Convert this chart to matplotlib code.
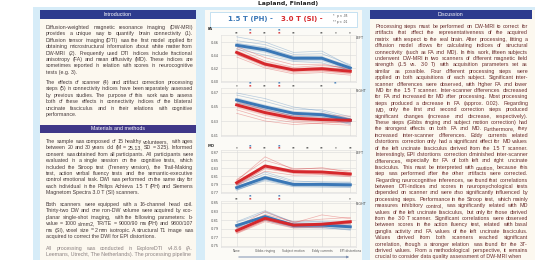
import matplotlib
matplotlib.use("Agg")
import matplotlib.pyplot as plt
from matplotlib.patches import Rectangle, FancyArrowPatch
from matplotlib.font_manager import FontProperties

W, H = 535, 260

# ---- chart data ----
steps = ["None", "Gibbs ringing", "Subject motion", "Eddy currents", "EPI distortions"]
panels = ["FA LEFT", "FA RIGHT", "MD LEFT", "MD RIGHT"]

fa_left_ph = [0.455, 0.448, 0.435, 0.435, 0.420]
fa_left_si = [0.444, 0.426, 0.417, 0.419, 0.415]
fa_right_ph = [0.460, 0.450, 0.441, 0.439, 0.431]
fa_right_si = [0.453, 0.442, 0.434, 0.432, 0.431]
md_left_ph = [0.781, 0.806, 0.789, 0.789, 0.788]
md_left_si = [0.793, 0.835, 0.821, 0.820, 0.815]
md_right_ph = [0.797, 0.818, 0.798, 0.798, 0.794]
md_right_si = [0.785, 0.814, 0.798, 0.800, 0.806]

# a few single subjects (faint lines)
fa_left_ph_subj = [[0.462, 0.456, 0.441, 0.442, 0.425], [0.449, 0.440, 0.430, 0.428, 0.416],
                   [0.468, 0.460, 0.444, 0.446, 0.423], [0.458, 0.452, 0.438, 0.437, 0.414]]
fa_left_si_subj = [[0.450, 0.431, 0.421, 0.424, 0.420], [0.437, 0.420, 0.411, 0.413, 0.409],
                   [0.453, 0.436, 0.425, 0.426, 0.418], [0.441, 0.424, 0.419, 0.416, 0.412]]
fa_right_ph_subj = [[0.467, 0.458, 0.447, 0.446, 0.436], [0.453, 0.443, 0.434, 0.433, 0.427],
                    [0.470, 0.462, 0.450, 0.444, 0.433], [0.456, 0.447, 0.437, 0.436, 0.425]]
fa_right_si_subj = [[0.460, 0.449, 0.440, 0.438, 0.437], [0.446, 0.434, 0.428, 0.426, 0.424],
                    [0.458, 0.446, 0.437, 0.441, 0.433], [0.441, 0.430, 0.425, 0.427, 0.429]]
md_left_ph_subj = [[0.787, 0.815, 0.795, 0.796, 0.794], [0.776, 0.798, 0.783, 0.782, 0.781],
                   [0.789, 0.820, 0.798, 0.794, 0.795], [0.774, 0.801, 0.786, 0.785, 0.783]]
md_left_si_subj = [[0.801, 0.849, 0.829, 0.828, 0.823], [0.786, 0.822, 0.812, 0.813, 0.808],
                   [0.798, 0.858, 0.826, 0.831, 0.819], [0.788, 0.828, 0.818, 0.815, 0.811]]
md_right_ph_subj = [[0.804, 0.828, 0.806, 0.805, 0.800], [0.790, 0.809, 0.792, 0.791, 0.788],
                    [0.806, 0.832, 0.804, 0.807, 0.803], [0.791, 0.812, 0.794, 0.793, 0.786]]
md_right_si_subj = [[0.792, 0.823, 0.806, 0.812, 0.816], [0.778, 0.806, 0.791, 0.793, 0.798],
                    [0.794, 0.830, 0.803, 0.822, 0.813], [0.780, 0.809, 0.795, 0.796, 0.802]]

band = [0.004, 0.004, 0.005, 0.005]
yticks = [[0.40, 0.42, 0.44, 0.46], [0.41, 0.43, 0.45, 0.47],
          [0.77, 0.79, 0.81, 0.83, 0.85, 0.87], [0.75, 0.77, 0.79, 0.81, 0.83, 0.85]]

# significance marks: (position on step axis, label)
sig_grey = [[(0, "**"), (1, "**"), (2, "**"), (3, "**"), (3.5, "*"), (4, "*")],
            [(0, "*"), (1, "**"), (2, "**"), (3, "**")],
            [(0, "*"), (1, "**"), (2, "**"), (2.5, "**"), (3, "**"), (3.5, "*"), (4, "**")],
            [(0, "**"), (4, "*")]]
sig_ph = [[(0.5, "**"), (1.5, "**")], [(0.5, "**"), (1.5, "**"), (3.5, "**")],
          [(0.5, "**"), (1.5, "**")], [(0.5, "**"), (1.5, "**")]]
sig_si = [[(0.5, "**"), (1.5, "**")], [(0.5, "**"), (1.5, "**")],
          [(0.5, "**"), (1.5, "**")], [(0.5, "**"), (1.5, "**")]]

# ---- poster text ----
intro_p1 = ["Diffusion-weighted magnetic resonance imaging (DW-MRI)",
            "provides a unique way to quantify brain connectivity (1).",
            "Diffusion tensor imaging (DTI) was the first model applied for",
            "obtaining microstructural information about white matter from",
            "DW-MRI (2). Frequently used DTI indices include fractional",
            "anisotropy (FA) and mean diffusivity (MD). These indices are",
            "sometimes reported in relation with scores in neurocognitive",
            "tests (e.g. 3)."]
intro_p2 = ["The effects of scanner (4) and artifact correction processing",
            "steps (5) in connectivity indices have been separately assessed",
            "by previous studies. The purpose of this work was to assess",
            "both of these effects in connectivity indices of the bilateral",
            "uncinate fasciculus and in their relations with cognitive",
            "performance."]
methods_p1 = ["The sample was composed of 15 healthy volunteers, with ages",
              "between 20 and 30 years old (M = 25.13, SD = 3.25). Informed",
              "consent was obtained from all participants. All participants were",
              "evaluated in a single session on the cognitive tests, which",
              "included the Stroop test (Trenerry version), the Trail-Making",
              "test, action verbal fluency tests and the semantic-executive",
              "control emotional task. DWI was performed on the same day for",
              "each individual in the Philips Achieva 1.5 T (PH) and Siemens",
              "Magnetom Spectra 3.0 T (SI) scanners."]
methods_p2 = ["Both scanners were equipped with a 16-channel head coil.",
              "Thirty-two DW and one non-DW volume were acquired by eco-",
              "planar single-shot imaging, with the following parameters: b-",
              "value = 1000 s/mm2, TR/TE = 9000/90 ms (PH) and 9800/107",
              "ms (SI), voxel size = 2 mm isotropic. A structural T1 image was",
              "acquired to correct the DWI for EPI distortions."]
methods_p3 = ["All processing was conducted in ExploreDTI v4.8.6 (A.",
              "Leemans, Utrecht, The Netherlands). The processing pipeline"]
discussion = ["Processing steps must be performed on DW-MRI to correct for",
              "artifacts that affect the representativeness of the acquired",
              "matrix with respect to the real brain. After processing, fitting a",
              "diffusion model allows for calculating indices of structural",
              "connectivity (such as FA and MD). In this work, fifteen subjects",
              "underwent DW-MRI in two scanners of different magnetic field",
              "strength (1.5 vs. 3.0 T) with acquisition parameters set as",
              "similar as possible. Four different processing steps were",
              "applied on both acquisitions of each subject. Significant inter-",
              "scanner differences were observed, with higher FA and lower",
              "MD for the 1.5 T scanner. Inter-scanner differences decreased",
              "for FA and increased for MD after processing. Most processing",
              "steps produced a decrease in FA (approx. 0.02). Regarding",
              "MD, only the first and second correction steps produced",
              "significant changes (increase and decrease, respectively).",
              "These steps (Gibbs ringing and subject motion correction) had",
              "the strongest effects on both FA and MD. Furthermore, they",
              "increased inter-scanner differences. Eddy currents related",
              "distortions correction only had a significant effect for MD values",
              "of the left uncinate fasciculus derived from the 1.5 T scanner.",
              "Interestingly, EPI distortions correction diminished inter-scanner",
              "differences, especially for FA of both left and right uncinate",
              "fasciculus. This must be interpreted with caution, because this",
              "step was performed after the other artifacts were corrected.",
              "Regarding neurocognitive inferences, we found that correlations",
              "between DTI-indices and scores in neuropsychological tests",
              "depended on scanner and were also significantly influenced by",
              "processing steps. Performance in the Stroop test, which mainly",
              "measures inhibitory control, was significantly related with MD",
              "values of the left uncinate fasciculus, but only for those derived",
              "from the 3.0 T scanner. Significant correlations were observed",
              "between scores in the action fluency test, related with basal",
              "ganglia activity and FA values of the left uncinate fasciculus.",
              "Values derived from both scanners reached significant",
              "correlation, though a stronger relation was found for the 3T-",
              "derived values. From a methodological perspective, it remains",
              "crucial to consider data quality assessment of DW-MRI when"]

BLUE = "#3a77b6"
RED = "#d6282c"

fig = plt.figure(figsize=(W / 100, H / 100), dpi=100)
fig.patch.set_facecolor("white")
renderer = fig.canvas.get_renderer()


def fx(x):
    return x / W


def fy(y):
    return 1 - y / H


def box(x0, y0, x1, y1, fc, ec="none", lw=0, z=-10):
    fig.add_artist(Rectangle((fx(x0), fy(y1)), fx(x1) - fx(x0), fy(y0) - fy(y1),
                             transform=fig.transFigure, facecolor=fc, edgecolor=ec,
                             linewidth=lw, zorder=z))


def width_of(s, fp):
    return renderer.get_text_width_height_descent(s, fp, ismath=False)[0]


def fit_size(all_lines, avail, ref=4.0):
    # font size that lets the widest line fill the column
    fp = FontProperties(family="Liberation Sans", size=ref)
    widest = max(width_of(l, fp) for l in all_lines)
    return ref * avail / widest * 0.99


def paragraph(lines, x0, x1, y0, color, size, step=6.4):
    # justified text, word by word
    fp = FontProperties(family="Liberation Sans", size=size)
    for i, line in enumerate(lines):
        y = y0 + i * step
        words = line.split()
        if i == len(lines) - 1 or len(words) < 2:
            fig.text(fx(x0), fy(y), line, fontproperties=fp, color=color, va="baseline")
            continue
        widths = [width_of(w, fp) for w in words]
        gap = max((x1 - x0 - sum(widths)) / (len(words) - 1), 0.5)
        x = x0
        for w, wd in zip(words, widths):
            fig.text(fx(x), fy(y), w, fontproperties=fp, color=color, va="baseline")
            x += wd + gap


# ---- poster frame ----
box(33, 7, 200, 260, "#d6ecf8")
box(40, 10, 196, 260, "#fcf8ef")
box(200, 7, 367, 260, "#d6ecf8")
box(205, 10, 362, 260, "#fbfaf6")
box(367, 7, 535, 260, "#d6ecf8")
box(370, 10, 535, 260, "#fcf8ef")

box(40, 10, 196, 18.5, "#2d3b8e")
box(40, 124.5, 196, 133, "#3f3788")
box(370, 10, 532, 18.5, "#2d3b8e")
hdr = dict(color="white", fontsize=3.8, ha="center", va="center", family="Liberation Sans")
fig.text(fx(118), fy(14.3), "Introduction", **hdr)
fig.text(fx(118), fy(128.8), "Materials and methods", **hdr)
fig.text(fx(451), fy(14.3), "Discussion", **hdr)

fig.text(fx(288), fy(3.0), "Lapland, Finland)", fontsize=4.4, fontweight="bold",
         ha="center", va="center", color="#222")

left_size = fit_size(intro_p1 + intro_p2 + methods_p1 + methods_p2 + methods_p3, 147)
right_size = fit_size(discussion, 153)
txt = "#45393a"
paragraph(intro_p1, 46, 193, 29, txt, left_size)
paragraph(intro_p2, 46, 193, 84, txt, left_size)
paragraph(methods_p1, 46, 193, 143, txt, left_size)
paragraph(methods_p2, 46, 193, 206, txt, left_size)
paragraph(methods_p3, 46, 193, 250, "#8a8080", left_size, step=6.0)
paragraph(discussion, 375, 528, 28, "#6a2e2e", right_size)

# ---- legend box ----
box(210, 12, 357, 27, "white", "#bcdcf0", 0.6, z=-5)
fig.text(fx(228), fy(19.5), "1.5 T (PH) -", color=BLUE, fontsize=5.0,
         fontweight="bold", va="center")
fig.text(fx(281), fy(19.5), "3.0 T (SI) -", color=RED, fontsize=5.0,
         fontweight="bold", va="center")
fig.text(fx(333), fy(16.5), "*   p < .05", color="#444", fontsize=2.1, va="center")
fig.text(fx(333), fy(21.5), "** p < .01", color="#444", fontsize=2.1, va="center")

# ---- the four panels ----
means_ph = [fa_left_ph, fa_right_ph, md_left_ph, md_right_ph]
means_si = [fa_left_si, fa_right_si, md_left_si, md_right_si]
subj_ph = [fa_left_ph_subj, fa_right_ph_subj, md_left_ph_subj, md_right_ph_subj]
subj_si = [fa_left_si_subj, fa_right_si_subj, md_left_si_subj, md_right_si_subj]
boxes = [(35, 82), (88, 136), (150, 193), (201, 247)]
ylims = [(0.3985, 0.4708), (0.4086, 0.4771), (0.7675, 0.875), (0.7465, 0.8547)]
x = list(range(len(steps)))

for k in range(4):
    top, bot = boxes[k]
    ax = fig.add_axes([fx(221), fy(bot), fx(356) - fx(221), (bot - top) / H])
    ax.set_facecolor("#fbf9f3")
    for s in ax.spines.values():
        s.set_color("#dddddd")
        s.set_linewidth(0.4)
    ax.set_xlim(-0.55, 4.2)
    ax.set_ylim(ylims[k])
    ax.set_yticks(yticks[k])
    ax.set_yticklabels(["%.2f" % t for t in yticks[k]])
    ax.set_xticks(x)
    ax.set_xticklabels(steps if k == 3 else [])
    ax.tick_params(length=0, labelsize=2.6, labelcolor="#555", pad=1.5)
    ax.tick_params(axis="x", labelsize=2.2)
    ax.grid(True, color="#d9d9d9", linewidth=0.4)
    ax.set_axisbelow(True)

    for subj, c in [(subj_ph[k], BLUE), (subj_si[k], RED)]:
        for s in subj:
            ax.plot(x, s, color=c, linewidth=0.5, alpha=0.35)
    for m, c in [(means_ph[k], BLUE), (means_si[k], RED)]:
        ax.fill_between(x, [v - band[k] for v in m], [v + band[k] for v in m],
                        color=c, alpha=0.22, linewidth=0)
        ax.plot(x, m, color=c, linewidth=2.1)

    ax.text(1.0, 0.93, panels[k].split()[1], transform=ax.transAxes, fontsize=2.4,
            color="#444", ha="left", va="center", clip_on=False)

    # significance rows above the panel
    tr = ax.get_xaxis_transform()
    for pos, lab in sig_grey[k]:
        ax.text(pos, 1.0, lab, transform=tr, fontsize=2.6, color="#555",
                ha="center", va="bottom", clip_on=False, fontweight="bold")
    for pos, lab in sig_ph[k]:
        ax.text(pos, 1.05, lab, transform=tr, fontsize=2.4, color=BLUE,
                ha="center", va="bottom", clip_on=False, fontweight="bold")
    for pos, lab in sig_si[k]:
        ax.text(pos, 0.99, lab, transform=tr, fontsize=2.4, color=RED,
                ha="center", va="bottom", clip_on=False, fontweight="bold")

fig.text(fx(208), fy(29), "FA", fontsize=2.8, color="#333", fontweight="bold", va="center")
fig.text(fx(208), fy(146), "MD", fontsize=2.8, color="#333", fontweight="bold", va="center")

# arrow under the step labels
fig.add_artist(FancyArrowPatch((fx(236), fy(257)), (fx(352), fy(257)),
                               transform=fig.transFigure, arrowstyle="-|>",
                               mutation_scale=3, color="#7d8fb0", linewidth=0.7))

fig.savefig("out.png", dpi=100)
